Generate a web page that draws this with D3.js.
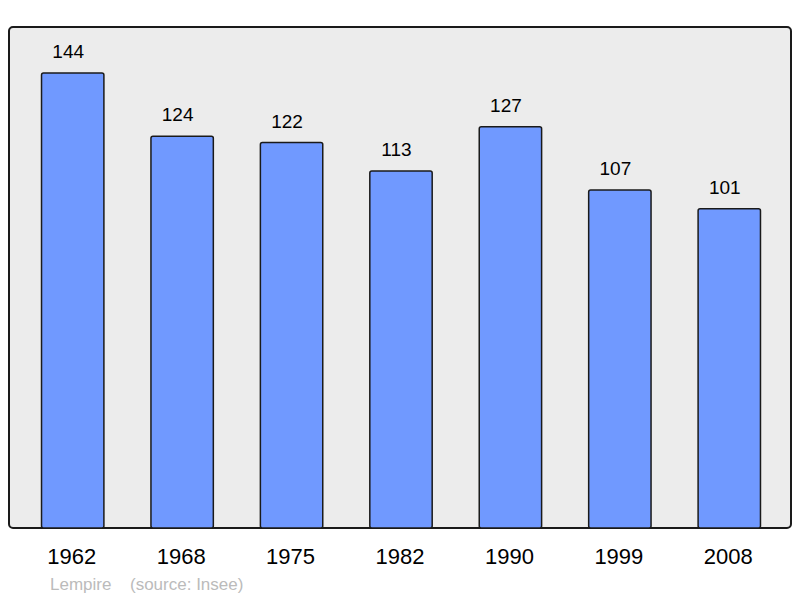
<html>
<head>
    <script src="https://cdnjs.cloudflare.com/ajax/libs/d3/7.8.5/d3.min.js"></script>
    <style>
        body { margin: 0; background: white; }
    </style>
</head>
<body>
    <script>
        var years = ["1962", "1968", "1975", "1982", "1990", "1999", "2008"];
        var population = [144, 124, 122, 113, 127, 107, 101];
        var credits = ["Lempire", "(source: Insee)"];

        var width = 800;
        var height = 598;

        var svg = d3.select("body").append("svg")
            .attr("width", width)
            .attr("height", height);

        // panel
        svg.append("rect")
            .attr("x", 9)
            .attr("y", 27)
            .attr("width", 782)
            .attr("height", 501)
            .attr("rx", 4)
            .attr("fill", "#ececec")
            .attr("stroke", "#1a1a1a")
            .attr("stroke-width", 2);

        var x = d3.scaleBand()
            .domain(years)
            .range([18, 784])
            .paddingInner(0.43)
            .paddingOuter(0.215);

        var y = d3.scaleLinear()
            .domain([0, 144])
            .range([528, 73]);

        var bars = svg.selectAll(".bar")
            .data(years)
            .enter()
            .append("g")
            .classed("bar", true);

        bars.append("rect")
            .attr("x", d => x(d))
            .attr("y", (d, i) => y(population[i]))
            .attr("width", x.bandwidth())
            .attr("height", (d, i) => y(0) - y(population[i]))
            .attr("rx", 2)
            .attr("fill", "#7099ff")
            .attr("stroke", "#1a1a1a")
            .attr("stroke-width", 1.5);

        bars.append("text")
            .attr("x", d => x(d) + x.bandwidth() / 2 - 4.5)
            .attr("y", (d, i) => y(population[i]) - 14.7)
            .attr("text-anchor", "middle")
            .style("font-family", "Liberation Sans, Arial, sans-serif")
            .style("font-size", "19px")
            .text((d, i) => population[i]);

        var xAxis = d3.axisBottom(x).tickSize(0).tickPadding(0);
        var xAxisGroup = svg.append("g")
            .attr("transform", "translate(-1,564)")
            .call(xAxis);
        xAxisGroup.select(".domain").remove();
        xAxisGroup.selectAll("text")
            .attr("y", 0)
            .attr("dy", 0)
            .style("font-family", "Liberation Sans, Arial, sans-serif")
            .style("font-size", "22px")
            .attr("fill", "#000");

        svg.append("text")
            .attr("x", 50)
            .attr("y", 590)
            .style("font-family", "Liberation Sans, Arial, sans-serif")
            .style("font-size", "17px")
            .attr("fill", "#bbbbbb")
            .text(credits[0]);

        svg.append("text")
            .attr("x", 130)
            .attr("y", 590)
            .style("font-family", "Liberation Sans, Arial, sans-serif")
            .style("font-size", "17px")
            .attr("fill", "#bbbbbb")
            .text(credits[1]);
    </script>
</body>
</html>
